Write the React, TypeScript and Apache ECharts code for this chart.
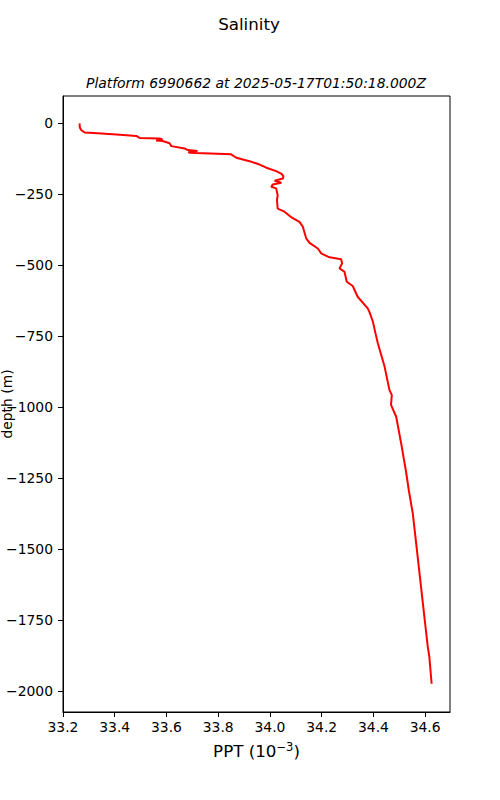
import React, { useEffect, useRef } from "react";
import * as echarts from "echarts";

const salinity = [
  33.264, 33.265, 33.271, 33.284, 33.335, 33.42, 33.483, 33.496, 33.573, 33.585,
  33.56, 33.585, 33.612, 33.619, 33.67, 33.683, 33.72, 33.685, 33.689, 33.77,
  33.85, 33.87, 33.921, 33.96, 33.986, 34.024, 34.045, 34.052, 34.05, 34.018,
  34.044, 34.011, 34.005, 34.024, 34.03, 34.027, 34.03, 34.056, 34.08, 34.114,
  34.127, 34.14, 34.153, 34.185, 34.198, 34.23, 34.275, 34.279, 34.269, 34.288,
  34.297, 34.32, 34.339, 34.378, 34.386, 34.398, 34.408, 34.417, 34.443, 34.462,
  34.471, 34.468, 34.488, 34.507, 34.526, 34.538, 34.552, 34.571, 34.591, 34.61,
  34.616, 34.625,
];
const depth = [
  0, -14, -24, -32, -35, -40, -44, -51, -53, -57,
  -60, -62, -70, -80, -88, -94, -97, -100, -103, -106,
  -109, -121, -133, -145, -156, -168, -178, -186, -194, -202,
  -209, -215, -223, -229, -253, -270, -300, -311, -329, -347,
  -364, -405, -421, -441, -458, -472, -479, -493, -511, -523,
  -558, -573, -611, -652, -668, -699, -740, -775, -857, -940,
  -957, -992, -1034, -1127, -1227, -1300, -1374, -1527, -1691, -1844,
  -1879, -1975,
];
const xTicks = [33.2, 33.4, 33.6, 33.8, 34.0, 34.2, 34.4, 34.6];
const yTicks = [0, -250, -500, -750, -1000, -1250, -1500, -1750, -2000];

const FONT = "DejaVu Sans";

export default function App() {
  const ref = useRef<HTMLDivElement>(null);
  useEffect(() => {
    if (!ref.current) return;
    const chart = echarts.init(ref.current, null, { renderer: "svg" });
    chart.setOption({
      animation: false,
      backgroundColor: "#ffffff",
      title: [
        {
          text: "Salinity",
          left: 244,
          top: 10,
          textAlign: "center",
          textStyle: { fontFamily: FONT, fontSize: 16.7, fontWeight: "normal", color: "#000" },
        },
        {
          text: "Platform 6990662 at 2025-05-17T01:50:18.000Z",
          left: 251,
          top: 71,
          textAlign: "center",
          textStyle: { fontFamily: FONT, fontSize: 13.9, fontStyle: "italic", fontWeight: "normal", color: "#000" },
        },
      ],
      grid: {
        left: 63,
        right: 50,
        top: 96,
        bottom: 88,
        containLabel: false,
        outerBoundsMode: "none",
        show: true,
        borderColor: "#000",
        borderWidth: 1,
        backgroundColor: "transparent",
      },
      xAxis: {
        type: "value",
        min: 33.2,
        max: 34.696,
        name: "PPT (10{sup|−3})",
        nameLocation: "middle",
        nameGap: 29,
        nameMoveOverlap: false,
        nameTextStyle: {
          fontFamily: FONT,
          fontSize: 16.7,
          color: "#000",
          rich: { sup: { fontFamily: FONT, fontSize: 11.5, verticalAlign: "top", padding: [0, 0, 8, 0], color: "#000" } },
        },
        axisLine: { show: true, onZero: false, lineStyle: { color: "#000" } },
        axisTick: { show: true, inside: false, length: 5, customValues: xTicks, lineStyle: { color: "#000" } },
        axisLabel: {
          show: true,
          margin: 8,
          fontFamily: FONT,
          fontSize: 13.9,
          color: "#000",
          customValues: xTicks,
          formatter: (v: number) => v.toFixed(1),
        },
        splitLine: { show: false },
      },
      yAxis: {
        type: "value",
        min: -2074.7,
        max: 96.7,
        name: "depth (m)",
        nameLocation: "middle",
        nameGap: 49,
        nameMoveOverlap: false,
        nameRotate: 90,
        nameTextStyle: { fontFamily: FONT, fontSize: 13.9, color: "#000" },
        axisLine: { show: true, onZero: false, lineStyle: { color: "#000" } },
        axisTick: { show: true, inside: false, length: 5, customValues: yTicks, lineStyle: { color: "#000" } },
        axisLabel: {
          show: true,
          margin: 10,
          fontFamily: FONT,
          fontSize: 13.9,
          color: "#000",
          customValues: yTicks,
          formatter: (v: number) => (v < 0 ? "−" + Math.abs(v) : String(v)),
        },
        splitLine: { show: false },
      },
      series: [
        {
          type: "line",
          data: salinity.map((s, i) => [s, depth[i]]),
          showSymbol: false,
          symbol: "none",
          lineStyle: { color: "#ff0000", width: 2 },
          clip: true,
        },
      ],
    });
    return () => chart.dispose();
  }, []);
  return (
    <div
      ref={ref}
      style={{ position: "absolute", left: 0, top: 0, width: 500, height: 800 }}
    />
  );
}
